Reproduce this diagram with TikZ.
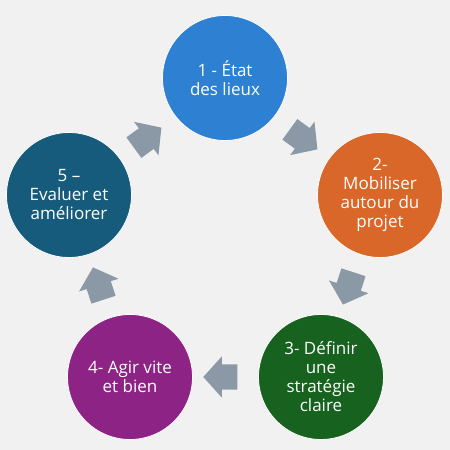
\documentclass[tikz,border=0pt]{standalone}
\usepackage{fontspec}
\setmainfont{Open Sans}
\usetikzlibrary{shapes.arrows}
\definecolor{bg}{HTML}{F1F1F1}
\definecolor{cblue}{HTML}{2E80D2}
\definecolor{corange}{HTML}{D9672A}
\definecolor{cgreen}{HTML}{17621F}
\definecolor{cpurple}{HTML}{8D2485}
\definecolor{cteal}{HTML}{165B7C}
\definecolor{agray}{HTML}{8B98A5}
\tikzset{
  stepcircle/.style={circle, minimum size=125pt, inner sep=0pt, draw=white, line width=0.8pt,
    text=white, align=center, font=\fontsize{17}{19}\selectfont},
  flowarrow/.style={single arrow, fill=agray, draw=none, minimum height=34pt,
    single arrow head extend=8pt, single arrow tip angle=96, inner xsep=0pt, inner ysep=12.5pt}
}
\begin{document}
\begin{tikzpicture}[x=1pt,y=1pt]
\fill[bg] (0,0) rectangle (450,450);
\useasboundingbox (0,0) rectangle (450,450);
\node[stepcircle, fill=cblue] (s1) at (225,372) {1 - État\\des lieux};
\node[stepcircle, fill=corange] (s2) at (380,255) {2-\\Mobiliser\\autour du\\projet};
\node[stepcircle, fill=cgreen] (s3) at (321,73) {3- Définir\\une\\stratégie\\claire};
\node[stepcircle, fill=cpurple] (s4) at (130,73) {4- Agir vite\\et bien};
\node[stepcircle, fill=cteal] (s5) at (69,255) {5 –\\Evaluer et\\améliorer};
\node[flowarrow, rotate=-36] (a12) at (299,314) {};
\node[flowarrow, rotate=-108] (a23) at (350,167) {};
\node[flowarrow, rotate=180] (a34) at (226,73) {};
\node[flowarrow, rotate=108] (a45) at (100,161) {};
\node[flowarrow, rotate=36] (a51) at (143,309) {};
\end{tikzpicture}
\end{document}
